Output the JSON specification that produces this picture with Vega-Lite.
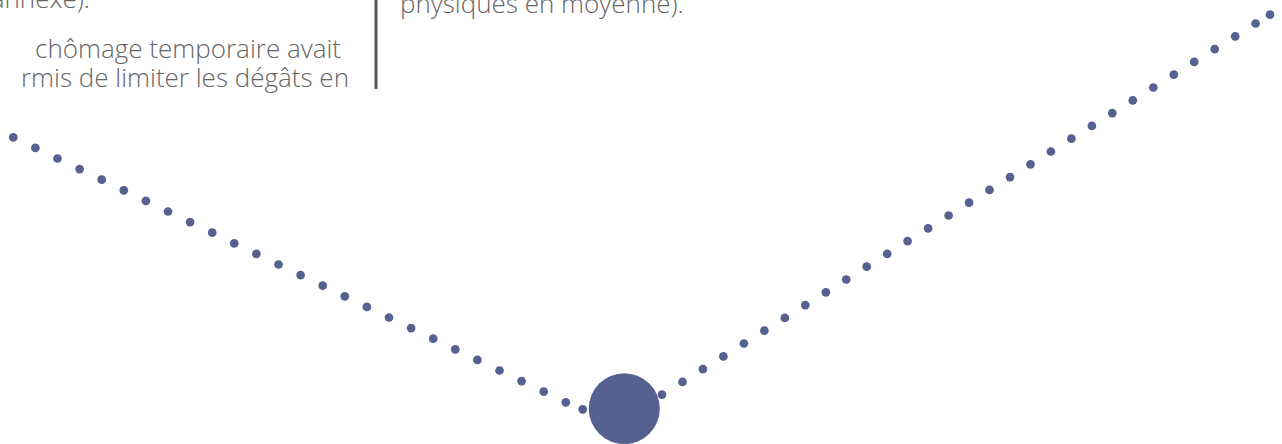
{
  "$schema": "https://vega.github.io/schema/vega-lite/v6.json",
  "width": 1282,
  "height": 444,
  "padding": 0,
  "autosize": {"type": "none"},
  "background": "#ffffff",
  "config": {"view": {"stroke": null}},
  "datasets": {
    "series": [
      {"t": 13.3, "v": 306.7, "role": "point"},
      {"t": 35.4, "v": 296.1, "role": "point"},
      {"t": 57.5, "v": 285.5, "role": "point"},
      {"t": 79.6, "v": 274.9, "role": "point"},
      {"t": 101.7, "v": 264.3, "role": "point"},
      {"t": 123.8, "v": 253.7, "role": "point"},
      {"t": 145.9, "v": 243.1, "role": "point"},
      {"t": 168.0, "v": 232.5, "role": "point"},
      {"t": 190.1, "v": 221.9, "role": "point"},
      {"t": 212.2, "v": 211.3, "role": "point"},
      {"t": 234.3, "v": 200.7, "role": "point"},
      {"t": 256.4, "v": 190.1, "role": "point"},
      {"t": 278.5, "v": 179.5, "role": "point"},
      {"t": 300.6, "v": 168.9, "role": "point"},
      {"t": 322.7, "v": 158.3, "role": "point"},
      {"t": 344.8, "v": 147.7, "role": "point"},
      {"t": 366.9, "v": 137.1, "role": "point"},
      {"t": 389.0, "v": 126.5, "role": "point"},
      {"t": 411.1, "v": 115.9, "role": "point"},
      {"t": 433.2, "v": 105.3, "role": "point"},
      {"t": 455.3, "v": 94.7, "role": "point"},
      {"t": 477.4, "v": 84.1, "role": "point"},
      {"t": 499.5, "v": 73.5, "role": "point"},
      {"t": 521.6, "v": 62.9, "role": "point"},
      {"t": 543.7, "v": 52.3, "role": "point"},
      {"t": 565.8, "v": 41.7, "role": "point"},
      {"t": 582.7, "v": 34.7, "role": "point"},
      {"t": 624.3, "v": 35.3, "role": "low"},
      {"t": 662.0, "v": 49.3, "role": "point"},
      {"t": 682.5, "v": 62.1, "role": "point"},
      {"t": 702.9, "v": 74.9, "role": "point"},
      {"t": 723.4, "v": 87.7, "role": "point"},
      {"t": 743.9, "v": 100.5, "role": "point"},
      {"t": 764.4, "v": 113.3, "role": "point"},
      {"t": 784.8, "v": 126.1, "role": "point"},
      {"t": 805.3, "v": 138.9, "role": "point"},
      {"t": 825.8, "v": 151.7, "role": "point"},
      {"t": 846.2, "v": 164.5, "role": "point"},
      {"t": 866.7, "v": 177.3, "role": "point"},
      {"t": 887.2, "v": 190.1, "role": "point"},
      {"t": 907.6, "v": 202.9, "role": "point"},
      {"t": 928.1, "v": 215.7, "role": "point"},
      {"t": 948.6, "v": 228.5, "role": "point"},
      {"t": 969.1, "v": 241.3, "role": "point"},
      {"t": 989.5, "v": 254.1, "role": "point"},
      {"t": 1010.0, "v": 266.9, "role": "point"},
      {"t": 1030.5, "v": 279.7, "role": "point"},
      {"t": 1050.9, "v": 292.5, "role": "point"},
      {"t": 1071.4, "v": 305.3, "role": "point"},
      {"t": 1091.9, "v": 318.1, "role": "point"},
      {"t": 1112.3, "v": 330.9, "role": "point"},
      {"t": 1132.8, "v": 343.7, "role": "point"},
      {"t": 1153.3, "v": 356.5, "role": "point"},
      {"t": 1173.8, "v": 369.3, "role": "point"},
      {"t": 1194.2, "v": 382.1, "role": "point"},
      {"t": 1214.7, "v": 394.9, "role": "point"},
      {"t": 1235.2, "v": 407.7, "role": "point"},
      {"t": 1255.6, "v": 420.5, "role": "point"},
      {"t": 1270.0, "v": 429.3, "role": "point"}
    ]
  },
  "layer": [
    {
      "data": {"name": "series"},
      "mark": {"type": "point", "filled": true, "shape": "circle", "opacity": 1, "color": "#55618f", "strokeWidth": 0},
      "encoding": {
        "x": {"field": "t", "type": "quantitative", "scale": {"domain": [0, 1282], "nice": false, "zero": false}, "axis": null},
        "y": {"field": "v", "type": "quantitative", "scale": {"domain": [0, 444], "nice": false, "zero": false}, "axis": null},
        "size": {"field": "role", "type": "nominal", "scale": {"domain": ["point", "low"], "range": [76, 5041]}, "legend": null}
      }
    },
    {
      "data": {"values": [{"label": "annexe)."}]},
      "mark": {"type": "text", "align": "right", "baseline": "alphabetic", "font": "Open Sans", "fontWeight": 300, "fontSize": 26, "color": "#666666"},
      "encoding": {
        "x": {"datum": 90, "type": "quantitative"},
        "y": {"datum": 435.7, "type": "quantitative"},
        "text": {"field": "label"}
      }
    },
    {
      "data": {"values": [{"label": "chômage  temporaire  avait"}]},
      "mark": {"type": "text", "align": "right", "baseline": "alphabetic", "font": "Open Sans", "fontWeight": 300, "fontSize": 26, "color": "#666666"},
      "encoding": {
        "x": {"datum": 341, "type": "quantitative"},
        "y": {"datum": 386, "type": "quantitative"},
        "text": {"field": "label"}
      }
    },
    {
      "data": {"values": [{"label": "rmis de limiter les dégâts en"}]},
      "mark": {"type": "text", "align": "right", "baseline": "alphabetic", "font": "Open Sans", "fontWeight": 300, "fontSize": 26, "color": "#666666"},
      "encoding": {
        "x": {"datum": 349, "type": "quantitative"},
        "y": {"datum": 357.3, "type": "quantitative"},
        "text": {"field": "label"}
      }
    },
    {
      "data": {"values": [{"label": "physiques en moyenne)."}]},
      "mark": {"type": "text", "align": "left", "baseline": "alphabetic", "font": "Open Sans", "fontWeight": 300, "fontSize": 26, "color": "#666666"},
      "encoding": {
        "x": {"datum": 400, "type": "quantitative"},
        "y": {"datum": 430.7, "type": "quantitative"},
        "text": {"field": "label"}
      }
    },
    {
      "data": {"values": [{"label": "bar"}]},
      "mark": {"type": "rule", "color": "#555555", "strokeWidth": 3},
      "encoding": {
        "x": {"datum": 376, "type": "quantitative"},
        "y": {"datum": 444, "type": "quantitative"},
        "y2": {"datum": 355}
      }
    }
  ]
}
